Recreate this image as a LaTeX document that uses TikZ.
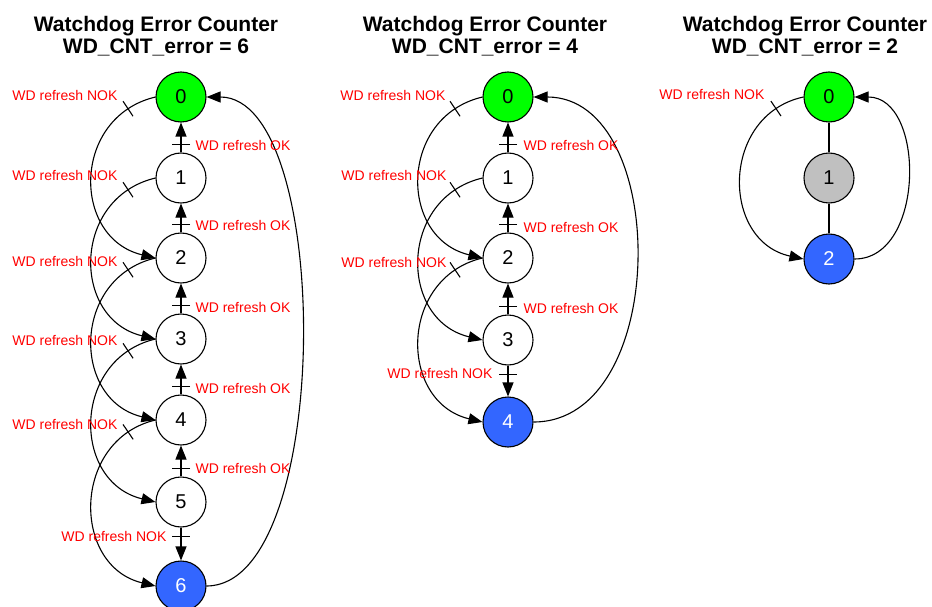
\documentclass[tikz,border=0pt]{standalone}
\usepackage{fontspec}
\setmainfont{Liberation Sans}
\usetikzlibrary{arrows.meta,decorations.markings}
\definecolor{stgreen}{HTML}{00FF00}
\definecolor{stblue}{HTML}{3366FF}
\definecolor{stgray}{HTML}{C0C0C0}
\begin{document}
\begin{tikzpicture}[x=1pt,y=-1pt,line width=1.1pt,
  state/.style={circle, draw=black, line width=1.1pt, minimum size=50pt, inner sep=0pt, font=\fontsize{20}{20}\selectfont},
  lbl/.style={text=red, inner sep=0pt, font=\fontsize{14}{14}\selectfont},
  title/.style={inner sep=0pt, font=\fontsize{21}{21}\selectfont\bfseries, anchor=base},
  arr/.style={-{Triangle[length=14pt,width=11pt]}, line width=1.1pt},
  tickat/.style={postaction={decorate, decoration={markings, mark=at position #1 with {\draw[-, line width=1.1pt] (0pt,-9pt) -- (0pt,9pt);}}}}
]
\useasboundingbox (0,0) rectangle (932,607);
\fill[white] (0,0) rectangle (932,607);

% titles
\node[title] (TL1) at (156,32) {Watchdog Error Counter};
\node[title] (TL2) at (156,54) {WD\_CNT\_error = 6};
\node[title] (TM1) at (485,32) {Watchdog Error Counter};
\node[title] (TM2) at (485,54) {WD\_CNT\_error = 4};
\node[title] (TR1) at (805,32) {Watchdog Error Counter};
\node[title] (TR2) at (805,54) {WD\_CNT\_error = 2};

% left diagram
\node[state, fill=stgreen] (L0) at (181,97) {0};
\node[state] (L1) at (181,178) {1};
\node[state] (L2) at (181,258) {2};
\node[state] (L3) at (181,339) {3};
\node[state] (L4) at (181,420) {4};
\node[state] (L5) at (181,502) {5};
\node[state, fill=stblue, text=white] (L6) at (181,586) {6};

\foreach \i/\j in {1/0,2/1,3/2,4/3,5/4}
  \draw[arr, tickat=8pt] (L\i.north) -- (L\j.south);
\draw[arr, tickat=9pt] (L5.south) -- (L6.north);
\foreach \i/\j in {0/2,1/3,2/4,3/5,4/6}
  \draw[arr, tickat=30pt] (L\i.west) .. controls +(-84,20) and +(-84,-20) .. (L\j.west);
\draw[arr] (L6.east) .. controls +(127,0) and +(127,0) .. (L0.east);

\node[lbl, anchor=base west] (LOK1) at (195,150) {WD refresh OK};
\node[lbl, anchor=base west] (LOK2) at (195,230) {WD refresh OK};
\node[lbl, anchor=base west] (LOK3) at (195,312) {WD refresh OK};
\node[lbl, anchor=base west] (LOK4) at (195,393) {WD refresh OK};
\node[lbl, anchor=base west] (LOK5) at (195,473) {WD refresh OK};
\node[lbl, anchor=base east] (LNOK0) at (118,101) {WD refresh NOK};
\node[lbl, anchor=base east] (LNOK1) at (118,180) {WD refresh NOK};
\node[lbl, anchor=base east] (LNOK2) at (118,266) {WD refresh NOK};
\node[lbl, anchor=base east] (LNOK3) at (118,345) {WD refresh NOK};
\node[lbl, anchor=base east] (LNOK4) at (118,429) {WD refresh NOK};
\node[lbl, anchor=base east] (LNOK5) at (167,541) {WD refresh NOK};

% middle diagram
\node[state, fill=stgreen] (M0) at (508,97) {0};
\node[state] (M1) at (508,178) {1};
\node[state] (M2) at (508,258) {2};
\node[state] (M3) at (508,340) {3};
\node[state, fill=stblue, text=white] (M4) at (508,422) {4};

\foreach \i/\j in {1/0,2/1,3/2}
  \draw[arr, tickat=8pt] (M\i.north) -- (M\j.south);
\draw[arr, tickat=9pt] (M3.south) -- (M4.north);
\foreach \i/\j in {0/2,1/3,2/4}
  \draw[arr, tickat=30pt] (M\i.west) .. controls +(-84,20) and +(-84,-20) .. (M\j.west);
\draw[arr] (M4.east) .. controls +(137,0) and +(137,0) .. (M0.east);

\node[lbl, anchor=base west] (MOK1) at (523,151) {WD refresh OK};
\node[lbl, anchor=base west] (MOK2) at (523,232) {WD refresh OK};
\node[lbl, anchor=base west] (MOK3) at (523,313) {WD refresh OK};
\node[lbl, anchor=base east] (MNOK0) at (446,101) {WD refresh NOK};
\node[lbl, anchor=base east] (MNOK1) at (447,180) {WD refresh NOK};
\node[lbl, anchor=base east] (MNOK2) at (447,267) {WD refresh NOK};
\node[lbl, anchor=base east] (MNOK3) at (493,378) {WD refresh NOK};

% right diagram
\node[state, fill=stgreen] (R0) at (829,97) {0};
\node[state, fill=stgray] (R1) at (829,178) {1};
\node[state, fill=stblue, text=white] (R2) at (829,259) {2};

\draw (R0) -- (R1);
\draw (R1) -- (R2);
\draw[arr, tickat=30pt] (R0.west) .. controls +(-83,18) and +(-83,-18) .. (R2.west);
\draw[arr] (R2.east) .. controls +(71,0) and +(71,0) .. (R0.east);

\node[lbl, anchor=base east] (RNOK0) at (765,100) {WD refresh NOK};
\end{tikzpicture}
\end{document}
